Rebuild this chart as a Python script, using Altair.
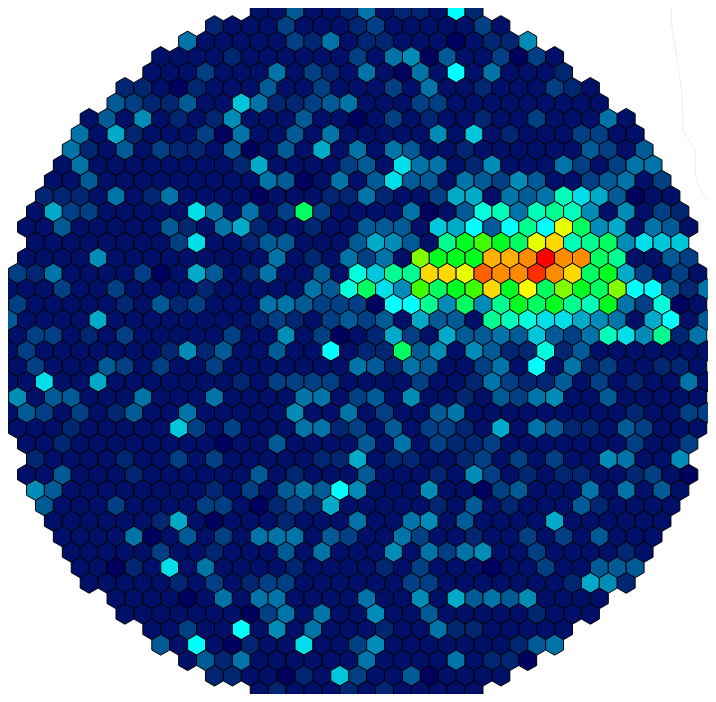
import altair as alt
import pandas as pd

# first occupied hexagon column of each row
ROW_STARTS = [14, 11, 10, 8, 8, 6, 6, 4, 4, 3, 3, 2, 2, 1, 1, 1, 1, 0, 0, 0, 0, 0, 0,
              0, 0, 0, 0, 0, 1, 1, 1, 1, 2, 2, 3, 3, 4, 4, 6, 6, 8, 8, 10, 11, 14]

R00 = [1,1,4,1,1,2,5,1,2,2,1,10,2]
R01 = [2,1,1,1,3,1,1,1,2,3,1,1,1,1,1,3,1]
R02 = [5,1,1,1,1,1,3,2,5,1,2,2,1,1,1,0,1,2,2,6]
R03 = [1,1,1,1,2,1,1,1,1,1,1,3,1,5,6,0,4,1,1,3,0,3,1]
R04 = [1,1,1,3,1,1,1,5,1,3,2,1,5,1,0,5,1,10,1,5,1,1,1,2]
R05 = [2,2,1,0,2,1,1,1,4,1,1,3,1,1,1,3,1,5,1,1,2,1,1,1,3,2,1]
R06 = [4,3,2,2,4,1,1,8,5,2,2,3,4,5,1,1,1,3,3,1,1,1,1,1,1,1,1,1]
R07 = [1,4,1,6,1,2,1,2,6,1,1,1,4,1,1,0,1,3,1,2,1,1,2,1,1,3,1,1,1,5,1]
R08 = [5,1,7,2,1,1,1,3,0,5,1,1,4,1,5,1,1,1,1,1,6,1,8,1,2,1,1,1,3,3,1,1]
R09 = [5,2,1,4,1,3,2,2,1,4,0,1,4,1,7,1,5,1,5,4,1,1,2,1,1,1,1,1,1,4,3,1,4]
R10 = [1,5,1,1,1,1,1,1,1,1,2,7,1,1,1,1,3,4,1,9,5,5,1,2,6,1,1,1,5,3,1,3,5,5]
R11 = [1,1,4,1,1,1,1,1,1,1,1,1,5,4,0,1,5,1,4,9,4,4,1,5,4,3,6,4,1,1,3,4,5,1,3]
R12 = [2,2,2,1,5,1,2,5,1,1,1,1,0,1,1,1,2,2,5,2,1,1,3,7,7,1,5,4,5,12,9,7,4,0,1,1]
R13 = [1,7,3,3,1,1,1,1,1,9,5,1,5,1,3,14,3,1,1,1,1,5,0,1,4,11,12,5,12,13,12,6,1,6,1,3,2]
R14 = [1,1,4,1,1,1,1,1,4,2,1,5,7,2,1,1,2,1,1,4,4,4,1,8,7,10,4,10,13,10,19,14,6,7,1,5,4,1]
R15 = [1,1,1,1,1,1,1,1,3,9,1,1,2,4,4,1,1,1,4,7,6,4,1,13,15,16,15,14,19,21,12,13,14,6,9,8,8]
R16 = [1,1,1,1,6,1,1,1,1,1,1,1,1,1,5,1,2,1,5,3,5,1,17,15,15,15,22,22,23,26,23,23,14,13,1,1,4,3]
R17 = [3,2,5,1,1,1,1,3,0,1,7,4,1,2,5,1,1,4,1,11,8,13,13,21,21,19,24,23,23,25,23,21,14,15,7,3,1,3,1]
R18 = [1,1,1,3,1,1,3,1,1,1,1,2,1,1,1,1,1,5,4,11,14,9,6,16,14,15,16,21,15,20,14,17,15,14,17,10,10,4,2,5]
R19 = [3,1,1,1,1,1,2,1,4,2,3,1,1,1,5,5,4,3,3,3,0,10,10,13,6,14,6,13,15,14,15,13,12,15,5,3,11,0,1]
R20 = [4,1,1,1,1,7,1,1,1,1,1,1,1,1,2,3,2,1,3,4,3,4,1,7,4,4,1,13,12,11,9,9,7,6,5,1,7,10,1,4]
R21 = [1,3,3,1,2,1,3,1,1,1,1,1,3,1,1,6,1,3,0,1,2,7,3,1,7,4,4,5,4,8,4,3,5,12,9,6,13,2,5]
R22 = [1,3,1,1,1,1,1,1,1,2,6,2,4,1,1,4,1,1,10,1,2,2,14,4,6,1,6,4,2,2,11,2,4,1,1,1,1,1,1,1]
R23 = [1,3,1,1,1,4,3,1,3,1,1,3,1,1,1,1,1,1,1,5,4,2,5,4,1,1,3,5,1,10,1,5,2,3,1,1,2,2,1]
R24 = [1,1,9,1,1,7,1,1,1,1,1,1,1,2,1,3,3,3,3,1,1,1,1,3,1,1,2,5,3,2,2,4,1,3,1,2,1,1,5,1]
R25 = [6,1,4,4,1,1,1,5,1,1,1,5,1,1,1,1,5,5,1,3,4,1,6,1,1,2,1,4,3,5,6,1,1,4,1,1,1,1,1]
R26 = [1,4,3,1,3,1,2,4,1,1,5,1,1,1,1,1,6,1,1,5,1,3,1,1,4,5,1,1,1,1,1,1,1,1,1,2,1,1,3,3]
R27 = [1,1,1,2,1,1,1,1,1,8,3,1,3,1,1,1,5,5,2,3,1,4,1,3,3,2,1,7,1,5,4,2,2,1,4,3,1,1,1]
R28 = [1,1,2,1,1,1,1,1,1,1,1,0,1,1,4,1,1,1,1,4,1,5,1,3,2,2,3,1,1,1,1,1,1,1,3,1,1,3]
R29 = [2,1,1,1,1,2,1,1,3,1,3,1,1,1,1,1,2,2,7,1,2,2,1,1,2,3,1,3,1,3,1,1,6,5,1,1,6]
R30 = [1,1,4,1,1,1,2,1,1,1,1,1,1,4,1,2,1,1,1,4,1,1,1,2,1,6,3,1,2,1,2,2,1,1,2,3,1,0]
R31 = [6,4,1,1,1,1,1,1,1,1,2,1,3,1,4,5,4,10,6,1,1,1,6,1,1,0,3,4,1,1,1,5,1,5,1,4,1]
R32 = [4,1,1,1,3,1,1,1,1,3,3,1,0,2,3,2,7,1,1,1,1,1,2,1,4,1,2,1,1,1,4,2,1,1,1,1]
R33 = [1,1,1,1,1,1,2,7,1,0,1,1,1,2,1,1,1,5,1,1,5,6,1,4,1,1,1,1,7,1,1,1,1,1,1]
R34 = [1,1,1,1,5,0,1,4,1,3,1,5,5,5,1,4,3,1,1,5,3,1,1,2,1,1,3,1,3,1,4,1,1,1]
R35 = [1,1,1,1,1,3,1,1,2,1,1,1,4,1,5,1,1,1,6,1,5,3,5,6,1,1,3,1,1,1,1,2,1]
R36 = [1,1,0,2,1,9,1,5,1,1,1,1,2,1,1,1,1,2,1,3,1,1,1,0,1,1,3,1,1,4,4,4]
R37 = [1,1,1,1,1,2,1,3,1,2,3,3,1,1,1,1,1,1,3,3,1,1,1,1,1,1,1,2,7,6,2]
R38 = [1,1,1,1,0,1,5,1,5,5,1,1,1,1,5,1,1,6,1,7,4,5,4,6,1,1,1,1]
R39 = [1,1,1,1,1,1,1,0,3,5,1,5,1,1,6,1,1,4,1,1,1,1,1,2,1,1,1]
R40 = [1,1,3,1,1,10,1,6,1,5,1,1,1,2,1,1,5,2,2,1,1,1,1,1]
R41 = [4,1,10,1,0,2,1,1,9,1,1,3,6,1,1,1,1,1,1,1,2,4,5]
R42 = [1,4,2,5,1,1,1,1,1,1,5,1,1,1,1,5,1,2,2,0]
R43 = [2,2,1,1,0,2,1,8,3,1,1,4,0,1,1,1,1]
R44 = [1,2,1,1,1,2,1,2,1,1,1,1,1]

ROWS = [R00,R01,R02,R03,R04,R05,R06,R07,R08,R09,R10,R11,R12,R13,R14,
        R15,R16,R17,R18,R19,R20,R21,R22,R23,R24,R25,R26,R27,R28,R29,
        R30,R31,R32,R33,R34,R35,R36,R37,R38,R39,R40,R41,R42,R43,R44]

LEVELS = list(range(27))
COLORS = ["#00005e", "#000f68", "#002672", "#003f84", "#005a96", "#0074a8", "#008cb6",
          "#00aac8", "#00c6dc", "#00dfe9", "#00ffff", "#00ffdc", "#00ffbb", "#00ff90",
          "#00ff60", "#00ff20", "#40ff00", "#80ff00", "#c0ff00", "#e8ff00", "#ffff00",
          "#ffd800", "#ffb000", "#ff8c00", "#ff6000", "#ff3000", "#ff0000"]

# faint stray trace in the upper right corner, in grid units
TRACE_COL = [37.0, 37.06, 37.45, 37.62, 37.68, 38.35, 38.35, 38.63, 38.96, 39.07]
TRACE_ROW = [-0.16, 1.07, 3.98, 5.46, 7.72, 9.02, 10.63, 11.6, 12.18, 12.18]

HEXAGON = "M0,-1L0.866,-0.5L0.866,0.5L0,1L-0.866,0.5L-0.866,-0.5Z"

records = []
for k, (start, values) in enumerate(zip(ROW_STARTS, ROWS)):
    for i, v in enumerate(values):
        records.append({"row": k, "col": start + i + 0.5 * (k % 2), "value": v})
cells = pd.DataFrame(records)
trace = pd.DataFrame({"col": TRACE_COL, "row": TRACE_ROW, "i": range(len(TRACE_COL))})

x_scale = alt.Scale(domain=[-0.0335, 39.07], nice=False, zero=False)
y_scale = alt.Scale(domain=[44.18, -0.1616], nice=False, zero=False)

line = alt.Chart(trace).mark_line(color="#efeee0", strokeWidth=1).encode(
    x=alt.X("col:Q", scale=x_scale, axis=None),
    y=alt.Y("row:Q", scale=y_scale, axis=None),
    order="i:Q",
)

hexes = alt.Chart(cells).mark_point(
    shape=HEXAGON, filled=True, opacity=1, size=427, stroke="#000000", strokeWidth=1
).encode(
    x=alt.X("col:Q", scale=x_scale, axis=None),
    y=alt.Y("row:Q", scale=y_scale, axis=None),
    color=alt.Color("value:Q", scale=alt.Scale(domain=LEVELS, range=COLORS), legend=None),
)

chart = (line + hexes).properties(
    width=700, height=686, padding=0, background="#ffffff",
    autosize=alt.AutoSizeParams(type="none"),
).configure_view(stroke=None)

chart.save("out.html", embed_options={"renderer": "svg", "actions": False})
